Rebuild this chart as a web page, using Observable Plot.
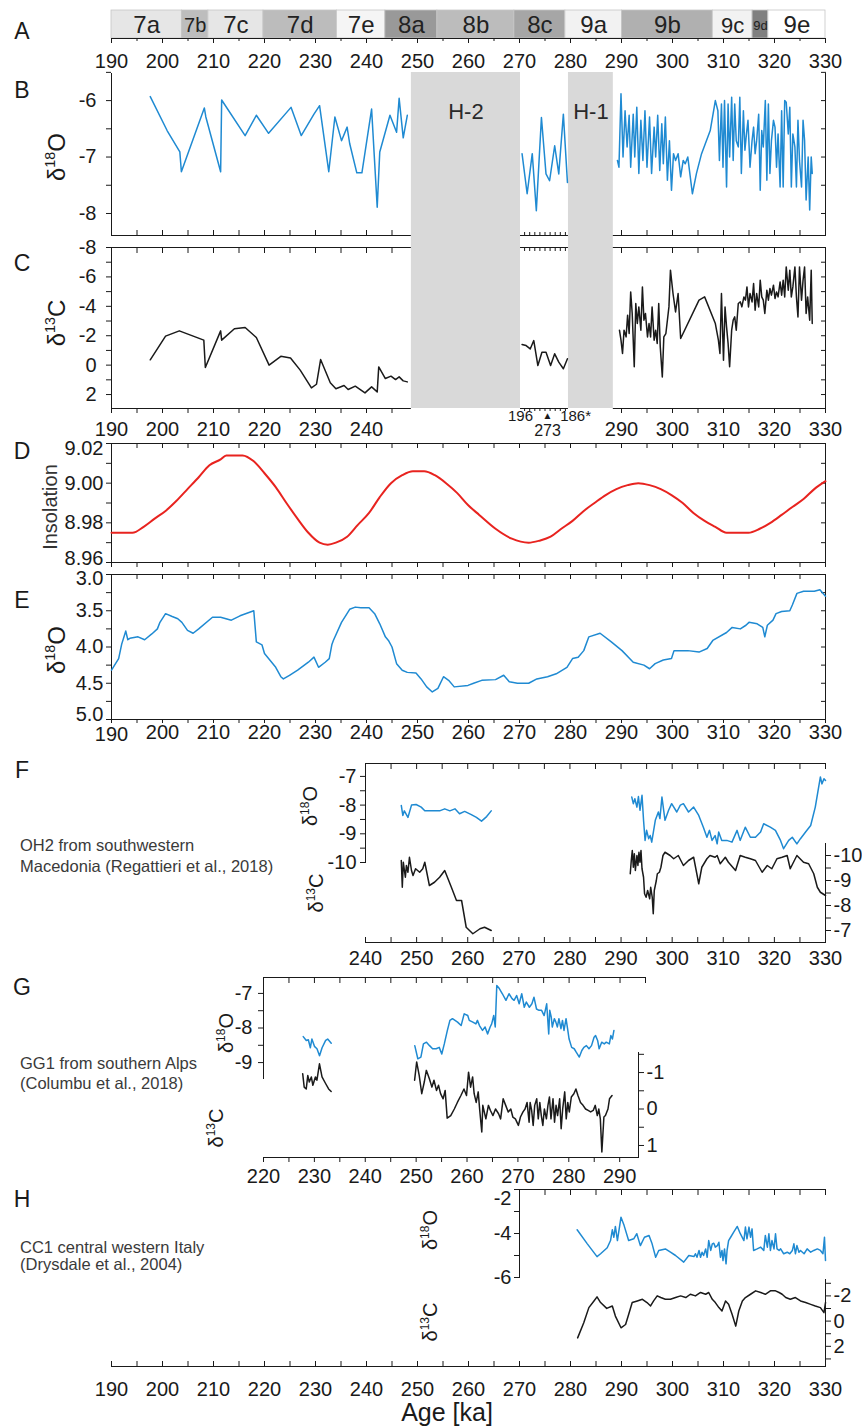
<!DOCTYPE html>
<html><head><meta charset="utf-8">
<script src="https://cdn.jsdelivr.net/npm/d3@7"></script>
<script src="https://cdn.jsdelivr.net/npm/@observablehq/plot@0.6"></script>
<style>
body{margin:0;background:#fff;}
#chart{position:relative;width:862px;height:1426px;overflow:hidden;font-family:"Liberation Sans",Arial,sans-serif;color:#1a1a1a;background:#fff;}
#chart svg{position:absolute;left:0;top:0;}
.n{position:absolute;transform:translate(-50%,-50%);line-height:1;white-space:nowrap;}
.r{position:absolute;transform:translate(-50%,-50%) rotate(-90deg);line-height:1;white-space:nowrap;}
.c{position:absolute;transform:translateY(-50%);line-height:1;white-space:nowrap;color:#3a3a3a;font-size:16.5px;}
sup{font-size:0.6em;vertical-align:0.7em;line-height:0;}
</style></head><body><div id="chart"></div>
<script>
// ---------------- DATA ----------------
const stageNames = ["7a","7b","7c","7d","7e","8a","8b","8c","9a","9b","9c","9d","9e"];
const stageStart = [190, 203.8, 209.0, 219.8, 234.2, 243.7, 253.9, 269.0, 279.0, 290.1, 307.9, 315.7, 318.8];
const stageEnd   = [203.8, 209.0, 219.8, 234.2, 243.7, 253.9, 269.0, 279.0, 290.1, 307.9, 315.7, 318.8, 330];

const heinrichNames = ["H-2", "H-1"];
const heinrichStart = [248.8, 279.6];
const heinrichEnd = [270.2, 288.4];

const brokenAxisStart = [190, 270.2, 288.4];
const brokenAxisEnd = [248.8, 279.6, 330];
const midAxisLabels = ["196", "186*"];
const midAxisLabelAge = [270.2, 281.0];
const midAxisMarkerAge = 275.5;
const midAxisSubLabel = "273";

// Panel B: speleothem d18O
const bO18Left = [[197.6,-5.93],[200.9,-6.53],[203.4,-6.91],[203.7,-7.26],[208.2,-6.13],[208.5,-6.29],[211.4,-7.26],[211.6,-5.99],[216.2,-6.62],[218.4,-6.26],[220.8,-6.58],[225.2,-6.12],[227.2,-6.62],[229.7,-6.24],[230.8,-6.09],[232.6,-7.26],[233.8,-6.29],[235.1,-6.71],[236.2,-6.47],[236.7,-6.76],[238.1,-7.28],[239.1,-7.28],[241.0,-6.15],[242.1,-7.89],[242.6,-6.91],[244.6,-6.26],[245.9,-6.56],[246.4,-5.96],[247.2,-6.66],[248.0,-6.26]];
const bO18Mid = [[270.5,-6.94],[271.5,-7.65],[272.5,-6.94],[273.3,-7.95],[274.3,-6.3],[275.2,-7.3],[275.9,-7.42],[276.9,-6.8],[277.7,-7.3],[278.6,-6.24],[279.4,-7.45]];
const bO18Right = [[289.2,-7.06],[289.5,-7.18],[289.9,-5.88],[290.3,-7.0],[290.7,-6.18],[291.1,-6.82],[291.5,-6.26],[291.8,-7.18],[292.3,-6.24],[292.6,-7.0],[293.0,-6.12],[293.4,-7.29],[293.8,-6.35],[294.2,-7.06],[294.6,-6.18],[295.0,-7.18],[295.5,-6.29],[295.9,-7.29],[296.4,-6.47],[296.7,-7.0],[297.1,-6.26],[297.5,-7.24],[297.9,-6.41],[298.2,-7.12],[298.6,-6.29],[299.0,-7.41],[299.4,-6.71],[299.8,-7.59],[300.2,-6.94],[300.6,-7.06],[301.1,-6.94],[301.6,-7.35],[302.1,-7.06],[302.5,-7.12],[303.0,-7.0],[303.9,-7.65],[304.7,-7.29],[305.7,-6.94],[307.4,-6.53],[308.4,-6.0],[308.9,-6.18],[309.2,-7.06],[309.6,-6.06],[309.9,-7.18],[310.2,-6.0],[310.6,-7.53],[310.9,-6.06],[311.2,-7.0],[311.6,-5.94],[311.9,-7.06],[312.2,-6.06],[312.5,-6.71],[312.9,-6.82],[313.2,-5.94],[313.5,-7.29],[313.9,-6.18],[314.2,-6.88],[314.5,-6.59],[314.8,-6.35],[315.2,-7.18],[315.6,-6.71],[315.9,-6.47],[316.2,-6.94],[316.5,-6.71],[316.9,-6.24],[317.2,-7.59],[317.5,-6.53],[317.8,-6.82],[318.2,-6.0],[318.5,-7.41],[318.8,-6.06],[319.1,-7.29],[319.4,-6.71],[319.8,-6.35],[320.1,-6.47],[320.4,-7.18],[320.7,-6.59],[321.1,-7.53],[321.4,-6.18],[321.7,-7.53],[322.0,-6.0],[322.3,-6.03],[322.7,-6.59],[323.0,-6.12],[323.3,-7.53],[323.6,-6.59],[324.0,-6.82],[324.3,-7.53],[324.6,-6.35],[324.9,-7.06],[325.3,-7.53],[325.6,-6.35],[325.9,-6.71],[326.2,-7.76],[326.6,-7.0],[326.9,-7.94],[327.2,-7.0],[327.4,-7.29]];

// Panel C: speleothem d13C
const cC13Left = [[197.6,-0.36],[200.6,-1.97],[203.3,-2.33],[208.1,-1.7],[208.4,0.16],[211.4,-2.33],[211.6,-1.7],[214.1,-2.47],[216.2,-2.56],[218.4,-1.88],[220.9,0.0],[223.2,-0.6],[225.1,-0.49],[227.0,0.34],[229.2,1.55],[230.2,1.3],[231.0,-0.38],[232.9,1.2],[234.0,1.61],[235.6,1.39],[236.4,1.66],[237.8,1.43],[239.7,1.89],[241.0,1.48],[242.1,1.82],[242.4,0.12],[243.7,0.91],[244.8,0.75],[245.7,0.98],[246.4,0.8],[247.2,1.07],[248.0,1.14]];
const cC13Mid = [[270.5,-1.4],[271.3,-1.33],[272.1,-1.1],[272.8,-1.67],[273.6,0.03],[274.4,-0.88],[275.2,-0.88],[276.1,0.03],[276.9,-0.77],[277.7,-0.2],[278.6,0.25],[279.4,-0.43]];
const cC13Right = [[289.6,-2.38],[289.9,-1.7],[290.2,-0.79],[290.5,-2.38],[290.9,-1.92],[291.2,-3.4],[291.5,-2.15],[291.8,-4.98],[292.1,-3.51],[292.5,0.11],[292.8,-4.19],[293.1,-2.83],[293.4,-3.96],[293.8,-2.38],[294.1,-5.32],[294.4,-3.06],[294.7,-3.51],[295.1,-1.92],[295.4,-2.83],[295.7,-1.92],[296.0,-3.96],[296.4,-1.7],[296.7,-2.38],[297.0,-1.47],[297.3,-4.19],[297.6,-1.24],[298.0,0.8],[298.3,-1.92],[298.7,-2.15],[299.3,-3.96],[299.6,-6.46],[300.1,-4.87],[300.6,-3.62],[301.1,-4.87],[301.6,-1.81],[305.2,-4.42],[306.3,-4.64],[308.4,-2.83],[309.0,-1.7],[309.3,-0.79],[309.6,-4.87],[310.0,-0.34],[310.3,-3.96],[310.6,-2.6],[310.9,-1.47],[311.2,0.11],[311.6,-2.38],[311.9,-3.06],[312.2,-3.28],[312.5,-2.38],[312.9,-4.19],[313.3,-4.3],[313.6,-3.96],[314.0,-4.64],[314.3,-4.42],[314.6,-5.32],[314.9,-3.96],[315.2,-4.87],[315.6,-4.3],[315.9,-5.55],[316.2,-3.74],[316.5,-4.87],[316.9,-3.96],[317.2,-5.78],[317.5,-4.64],[317.8,-4.42],[318.1,-3.51],[318.5,-5.1],[318.8,-4.42],[319.1,-5.21],[319.4,-4.76],[319.8,-5.44],[320.1,-4.53],[320.4,-4.98],[320.7,-4.64],[321.1,-5.66],[321.4,-4.76],[321.7,-5.78],[322.0,-4.64],[322.3,-6.68],[322.7,-5.1],[323.0,-6.46],[323.3,-4.64],[323.6,-5.32],[324.0,-6.68],[324.3,-4.64],[324.6,-3.28],[324.9,-6.68],[325.3,-4.42],[325.6,-5.78],[325.9,-6.68],[326.2,-3.51],[326.5,-4.64],[326.9,-3.06],[327.2,-6.46],[327.4,-2.83]];

// Panel D: insolation
const dInsolation = [[190,8.975],[194.1,8.975],[196.3,8.978],[198.4,8.982],[200.6,8.986],[202.7,8.991],[204.9,8.997],[207.1,9.003],[209.2,9.009],[211.4,9.012],[212.5,9.014],[215.7,9.014],[217.9,9.011],[220.0,9.005],[222.2,8.998],[224.3,8.990],[226.5,8.982],[228.6,8.975],[230.8,8.970],[232.4,8.969],[234.0,8.970],[236.2,8.973],[238.3,8.979],[240.5,8.985],[242.6,8.993],[244.8,9.000],[247.0,9.004],[249.1,9.006],[251.3,9.006],[253.4,9.004],[255.6,9.000],[257.8,8.995],[259.9,8.989],[262.1,8.984],[265.3,8.977],[268.5,8.972],[271.8,8.970],[273.9,8.971],[276.1,8.973],[278.2,8.977],[280.4,8.981],[282.6,8.986],[284.7,8.990],[286.9,8.994],[289.0,8.997],[291.2,8.999],[293.3,9.000],[295.5,8.999],[297.7,8.997],[299.8,8.994],[302.0,8.990],[304.1,8.985],[306.3,8.981],[308.4,8.978],[310.6,8.975],[312.7,8.975],[314.9,8.975],[317.1,8.977],[319.2,8.980],[321.4,8.984],[323.5,8.988],[325.7,8.992],[327.8,8.997],[330.0,9.001]];

// Panel E: benthic d18O stack
const eO18 = [[190.0,4.32],[191.4,4.16],[192.0,3.96],[192.8,3.78],[193.2,3.9],[193.6,3.88],[195.2,3.86],[196.5,3.9],[197.9,3.82],[199.0,3.75],[199.5,3.66],[200.6,3.54],[201.9,3.58],[203.0,3.61],[203.8,3.66],[204.9,3.77],[206.0,3.81],[207.1,3.75],[209.8,3.59],[211.4,3.59],[213.5,3.63],[215.2,3.57],[217.9,3.50],[218.4,3.93],[219.5,3.97],[220.0,4.09],[222.2,4.28],[223.2,4.41],[223.7,4.44],[224.9,4.39],[226.5,4.32],[228.6,4.21],[229.7,4.14],[230.6,4.28],[231.9,4.21],[232.7,4.16],[233.2,3.97],[233.5,3.91],[235.1,3.66],[236.7,3.48],[237.8,3.45],[238.9,3.46],[240.5,3.46],[241.6,3.54],[242.6,3.68],[243.7,3.86],[244.3,3.91],[245.0,4.0],[245.9,4.23],[247.0,4.32],[248.0,4.35],[249.7,4.36],[250.7,4.44],[251.8,4.55],[252.9,4.62],[254.0,4.57],[255.1,4.41],[256.1,4.46],[257.2,4.55],[259.9,4.53],[261.0,4.5],[262.6,4.46],[265.3,4.45],[266.9,4.39],[268.0,4.48],[269.6,4.5],[271.8,4.5],[273.4,4.44],[275.5,4.41],[277.2,4.37],[279.3,4.28],[280.4,4.16],[281.5,4.14],[282.6,4.05],[283.6,3.86],[285.8,3.81],[288.0,3.93],[290.1,4.05],[292.3,4.21],[294.4,4.25],[295.5,4.3],[296.6,4.23],[298.2,4.18],[299.8,4.16],[300.3,4.05],[303.0,4.05],[305.2,4.07],[306.8,4.02],[307.9,3.91],[310.6,3.80],[311.7,3.73],[313.3,3.75],[314.4,3.70],[315.0,3.66],[316.6,3.68],[317.7,3.73],[318.1,3.86],[318.6,3.70],[319.7,3.63],[320.3,3.54],[321.4,3.51],[323.0,3.50],[323.5,3.42],[324.4,3.26],[325.7,3.23],[327.8,3.23],[328.9,3.21],[330.0,3.30]];

// Panel F: OH2
const fO18a = [[247.0,-8.01],[247.3,-8.36],[247.6,-8.2],[248.3,-8.43],[249.0,-8.0],[249.9,-7.98],[250.9,-8.07],[251.6,-8.2],[254.5,-8.2],[255.5,-8.13],[256.5,-8.2],[257.5,-8.13],[258.4,-8.3],[259.4,-8.22],[260.7,-8.33],[261.7,-8.43],[262.7,-8.56],[263.7,-8.4],[264.6,-8.2]];
const fO18b = [[292.1,-7.72],[292.4,-7.95],[292.7,-7.78],[293.1,-8.07],[293.4,-7.70],[293.7,-8.18],[294.1,-7.66],[294.4,-8.53],[294.7,-9.23],[295.0,-8.88],[295.4,-9.17],[295.7,-9.06],[296.0,-9.29],[296.7,-8.53],[297.3,-8.24],[297.6,-8.47],[298.0,-7.72],[298.6,-8.53],[299.3,-8.18],[299.9,-7.95],[300.9,-8.24],[301.6,-8.0],[302.2,-7.95],[303.2,-8.24],[304.2,-8.07],[305.2,-8.36],[306.1,-8.77],[306.8,-9.12],[307.3,-8.88],[307.8,-9.23],[308.4,-9.06],[308.8,-9.35],[309.1,-8.94],[309.7,-9.23],[310.7,-9.23],[311.7,-9.29],[312.7,-8.88],[313.3,-9.23],[314.3,-8.77],[315.3,-9.12],[316.3,-9.12],[317.3,-8.94],[317.9,-8.65],[319.2,-8.77],[320.2,-8.88],[321.2,-9.23],[321.8,-9.52],[322.8,-9.23],[323.5,-9.12],[324.4,-9.35],[325.1,-9.17],[326.1,-8.94],[327.1,-8.71],[328.0,-8.07],[329.0,-7.02],[329.3,-7.26],[329.7,-7.08],[330.0,-7.14]];
const fC13a = [[247.0,-9.8],[247.2,-8.73],[247.4,-9.73],[247.8,-9.13],[248.0,-9.6],[248.3,-9.33],[248.6,-9.93],[249.0,-9.4],[249.3,-9.2],[249.8,-9.47],[250.6,-9.33],[251.2,-9.47],[251.6,-9.73],[252.5,-8.8],[253.5,-8.93],[254.5,-9.13],[255.5,-9.4],[256.8,-8.73],[257.8,-8.2],[258.8,-8.2],[259.7,-7.13],[261.0,-6.87],[262.4,-7.07],[263.3,-7.13],[264.6,-7.0]];
const fC13b = [[291.8,-9.27],[292.0,-9.8],[292.2,-10.2],[292.4,-9.53],[292.6,-10.07],[292.8,-9.4],[293.1,-10.0],[293.3,-9.6],[293.5,-10.13],[293.7,-9.73],[293.9,-10.2],[294.1,-9.47],[294.4,-9.13],[294.6,-8.47],[294.9,-8.33],[295.2,-8.6],[295.6,-8.27],[295.8,-8.73],[296.1,-8.33],[296.3,-7.67],[296.5,-8.6],[296.9,-9.0],[297.1,-9.27],[297.5,-9.33],[297.8,-9.53],[298.2,-10.0],[298.6,-10.13],[299.6,-10.0],[300.3,-9.87],[301.2,-10.0],[302.2,-9.6],[303.2,-9.8],[304.2,-9.93],[305.2,-8.87],[305.8,-9.53],[306.8,-9.87],[307.4,-10.0],[308.4,-9.93],[308.8,-10.0],[309.4,-9.67],[310.4,-9.93],[311.0,-9.73],[312.4,-9.4],[313.3,-10.0],[314.3,-9.93],[315.3,-9.87],[316.3,-9.8],[317.6,-9.33],[318.6,-9.6],[319.5,-9.47],[320.5,-9.87],[321.5,-9.93],[322.5,-10.0],[323.1,-9.47],[324.4,-10.0],[325.7,-9.73],[326.7,-9.67],[327.7,-9.27],[328.4,-8.73],[329.0,-8.53],[330.0,-8.4]];

// Panel G: GG1
const gO18a = [[227.8,-8.25],[228.4,-8.36],[228.8,-8.34],[229.2,-8.57],[229.5,-8.32],[230.0,-8.53],[230.5,-8.6],[231.0,-8.8],[231.5,-8.57],[232.2,-8.36],[232.6,-8.32],[233.3,-8.44]];
const gO18b = [[249.7,-8.51],[250.3,-8.89],[250.9,-8.84],[251.4,-8.46],[252.0,-8.41],[252.6,-8.51],[253.2,-8.6],[253.9,-8.6],[254.5,-8.56],[255.0,-8.75],[255.5,-8.46],[256.1,-8.07],[256.6,-7.78],[257.1,-7.73],[258.1,-7.83],[258.8,-7.93],[259.4,-7.59],[260.1,-7.64],[260.4,-7.78],[261.1,-7.83],[261.7,-7.88],[262.0,-7.78],[262.4,-7.93],[263.0,-8.07],[263.5,-7.97],[264.0,-8.17],[264.5,-7.97],[264.8,-7.88],[265.2,-7.64],[265.5,-7.97],[265.8,-6.77],[266.3,-6.86],[266.9,-7.01],[267.6,-7.2],[268.2,-7.01],[268.8,-7.15],[269.2,-7.2],[269.7,-7.06],[270.2,-7.3],[270.7,-7.01],[271.2,-7.4],[271.6,-7.25],[272.2,-7.4],[272.7,-7.3],[273.1,-7.11],[273.6,-7.45],[274.1,-7.49],[274.6,-7.49],[275.1,-7.64],[275.6,-7.3],[276.0,-8.17],[276.2,-7.49],[276.5,-7.69],[276.7,-7.97],[277.1,-7.73],[277.4,-7.83],[277.7,-7.97],[278.0,-7.73],[278.4,-8.02],[278.7,-7.78],[279.0,-8.07],[279.4,-7.73],[279.7,-8.02],[280.0,-8.32],[280.5,-8.56],[281.0,-8.6],[281.4,-8.7],[282.0,-8.84],[282.5,-8.65],[282.9,-8.56],[283.4,-8.51],[283.9,-8.6],[284.4,-8.51],[284.9,-8.27],[285.2,-8.22],[285.6,-8.36],[285.9,-8.6],[286.4,-8.41],[286.9,-8.46],[287.3,-8.41],[287.9,-8.46],[288.2,-8.22],[288.5,-8.32],[288.8,-8.07]];
const gC13a = [[227.7,-0.97],[228.0,-0.6],[228.4,-0.55],[228.7,-0.92],[229.0,-0.74],[229.4,-0.88],[229.7,-0.65],[230.2,-0.88],[230.5,-0.79],[231.0,-1.24],[231.5,-0.88],[232.2,-0.7],[232.8,-0.55],[233.3,-0.48]];
const gC13b = [[249.7,-0.79],[250.1,-1.29],[250.6,-0.92],[251.1,-0.42],[251.6,-0.74],[252.0,-1.06],[252.6,-0.83],[253.1,-0.6],[253.5,-0.79],[254.0,-0.51],[254.4,-0.65],[254.8,-0.42],[255.3,-0.28],[255.7,-0.51],[256.1,0.25],[256.8,0.18],[257.5,0.0],[258.1,-0.18],[258.8,-0.37],[259.4,-0.55],[259.9,-0.37],[260.3,-1.01],[260.7,-0.6],[261.1,-0.88],[261.4,-0.42],[261.8,-0.18],[262.2,-0.47],[262.5,0.04],[262.9,0.63],[263.1,-0.1],[263.7,0.27],[264.2,-0.1],[264.6,0.04],[265.1,0.18],[265.6,0.0],[266.2,0.13],[266.6,0.27],[267.1,-0.28],[267.6,-0.1],[268.1,0.08],[268.6,0.0],[269.0,0.22],[269.5,0.27],[270.1,0.45],[270.5,0.22],[271.0,0.08],[271.4,0.0],[271.8,-0.18],[272.2,0.36],[272.4,-0.18],[272.7,0.04],[273.0,0.45],[273.3,-0.1],[273.7,-0.28],[274.0,0.27],[274.3,-0.18],[274.6,0.18],[274.9,0.45],[275.2,0.0],[275.6,0.27],[275.9,-0.1],[276.2,-0.33],[276.5,0.27],[276.9,-0.28],[277.2,0.36],[277.5,-0.1],[277.8,0.18],[278.2,-0.28],[278.5,0.54],[278.8,0.0],[279.2,-0.47],[279.5,0.27],[279.8,-0.18],[280.1,0.08],[280.5,-0.33],[281.0,-0.42],[281.4,-0.55],[281.8,-0.37],[282.3,-0.18],[282.8,-0.1],[283.3,0.0],[283.8,0.04],[284.3,0.08],[284.8,0.04],[285.2,-0.1],[285.6,0.18],[285.9,0.0],[286.2,0.27],[286.5,1.18],[286.9,0.22],[287.2,0.18],[287.7,0.0],[288.0,-0.28],[288.5,-0.37]];

// Panel H: CC1
const hO18 = [[281.3,-3.83],[283.3,-4.47],[285.2,-5.05],[285.9,-4.92],[287.2,-4.65],[287.85,-4.32],[288.2,-3.83],[288.5,-4.17],[288.8,-3.68],[289.2,-4.32],[289.9,-3.26],[290.5,-3.63],[291.4,-4.32],[292.4,-4.24],[293.0,-4.01],[293.7,-4.55],[294.5,-4.17],[295.4,-4.09],[296.0,-4.47],[296.7,-5.08],[297.3,-4.77],[298.6,-4.7],[299.6,-4.85],[300.6,-5.0],[302.2,-5.3],[303.2,-5.0],[304.2,-5.05],[304.5,-4.92],[304.8,-5.08],[305.2,-4.77],[305.5,-5.08],[305.8,-4.85],[306.1,-5.0],[306.5,-4.7],[306.8,-5.08],[307.1,-4.32],[307.5,-4.77],[307.8,-4.47],[308.1,-4.44],[308.4,-4.62],[308.8,-4.55],[309.1,-4.4],[309.4,-5.08],[309.7,-4.77],[309.9,-5.23],[310.2,-4.7],[310.5,-5.38],[310.7,-4.77],[311.0,-4.32],[311.4,-4.17],[312.0,-3.94],[312.7,-3.68],[313.3,-4.01],[314.0,-4.32],[314.3,-3.71],[314.6,-4.24],[315.0,-3.71],[315.3,-4.17],[315.6,-3.79],[315.9,-4.77],[316.6,-4.7],[317.3,-4.62],[317.9,-4.77],[318.2,-4.09],[318.6,-4.62],[318.9,-4.01],[319.2,-4.77],[319.5,-4.32],[319.9,-4.7],[320.2,-4.01],[320.5,-4.7],[320.9,-4.77],[321.2,-4.7],[321.8,-4.92],[322.5,-4.85],[323.0,-4.92],[323.5,-4.77],[323.8,-4.47],[324.1,-4.92],[324.4,-4.55],[324.8,-4.85],[325.1,-4.77],[325.8,-4.92],[326.4,-4.7],[327.1,-4.85],[327.7,-4.77],[328.4,-4.7],[329.0,-4.77],[329.5,-4.92],[329.8,-4.17],[330.0,-5.23]];
const hC13 = [[281.4,1.33],[282.6,0.13],[283.6,-1.07],[284.6,-1.6],[285.2,-1.92],[285.9,-1.47],[287.1,-1.01],[288.2,-1.2],[288.8,-0.4],[289.9,0.53],[290.8,0.27],[291.4,-0.53],[292.1,-1.47],[293.1,-1.6],[294.1,-1.73],[295.0,-1.47],[295.7,-1.2],[296.3,-1.6],[297.0,-2.0],[297.7,-1.87],[298.6,-1.73],[299.6,-1.73],[300.6,-1.87],[301.6,-2.0],[302.6,-1.87],[303.5,-2.13],[304.5,-2.0],[305.5,-2.27],[306.5,-2.13],[307.1,-2.27],[307.8,-1.73],[308.4,-1.47],[309.1,-1.07],[309.7,-0.8],[310.4,-1.6],[311.0,-1.33],[311.7,-0.53],[312.4,0.4],[313.0,-0.8],[313.7,-1.6],[314.3,-1.87],[315.3,-2.13],[316.3,-2.4],[317.3,-2.27],[318.2,-2.13],[319.2,-2.4],[320.2,-2.4],[320.9,-2.27],[321.5,-2.13],[322.2,-1.87],[323.1,-1.73],[324.1,-1.87],[325.1,-1.6],[326.1,-1.47],[327.1,-1.33],[328.0,-1.2],[329.0,-1.07],[329.7,-0.67],[330.0,-1.47]];

// ---------------- STYLE / LAYOUT ----------------
const stageGrays = ["#e6e6e6","#bdbdbd","#e6e6e6","#bcbcbc","#f5f5f5","#999999","#bcbcbc","#a6a6a6","#f2f2f2","#b0b0b0","#f2f2f2","#808080","#ffffff"];
const stageFont = {"7b": 20, "9c": 22, "9d": 13};
const ink = "#1a1a1a", blue = "#1f8ad2", red = "#e8231f", bandGray = "#d9d9d9";
const font = "'Liberation Sans', Arial, Helvetica, sans-serif";
const W = 862, H = 1426;
const chart = document.getElementById("chart");

const fmt = d => String(d);
const blank = () => "";
const rows = (seg, pairs) => pairs.map(([age, v]) => ({seg, age, v}));
const every = (a, b, s) => d3.range(a, b + 1e-9, s);

const stageRows = stageNames.map((stage, i) => ({stage, start: stageStart[i], end: stageEnd[i]}));
const bandRows = heinrichNames.map((name, i) => ({name, start: heinrichStart[i], end: heinrichEnd[i]}));
const segRows = brokenAxisStart.map((s, i) => ({start: s, end: brokenAxisEnd[i]}));
const outerTicks = every(190, 245, 5).concat(every(290, 330, 5));
const innerTicks = every(271, 279, 1);
const outerLabels = every(190, 240, 10).concat(every(290, 330, 10));
const midRows = midAxisLabels.map((t, i) => ({t, age: midAxisLabelAge[i]}));

function panel({top, bottom, left = 111, right = 825, x = [190, 330], y, reverse = false, color, marks}) {
  const opts = {
    width: W, height: H,
    marginTop: top, marginBottom: H - bottom, marginLeft: left, marginRight: W - right,
    x: {domain: x, label: null, axis: null},
    style: {background: "transparent", fontFamily: font, fontSize: "20px", color: ink, overflow: "visible"},
    marks
  };
  if (y) opts.y = {domain: y, reverse, label: null, axis: null};
  if (color) opts.color = color;
  chart.appendChild(Plot.plot(opts));
}

// A: MIS stages strip + top age axis
panel({top: 10, bottom: 38, color: {domain: stageNames, range: stageGrays}, marks: [
  Plot.rect(stageRows, {x1: "start", x2: "end", fill: "stage", stroke: "#c6c6c6", strokeWidth: 0.8}),
  Plot.text(stageRows, {x: d => (d.start + d.end) / 2, text: "stage", fontSize: d => stageFont[d.stage] || 24, fill: "#222", dy: 1}),
  Plot.frame({anchor: "bottom", stroke: ink}),
  Plot.axisX({anchor: "bottom", ticks: every(190, 330, 10), tickSize: 5, tickPadding: 10, tickFormat: fmt}),
  Plot.axisX({anchor: "bottom", ticks: every(195, 325, 10), tickSize: 3, tickFormat: blank})
]});

// Heinrich bands behind B and C
panel({top: 72, bottom: 408, marks: [
  Plot.rect(bandRows, {x1: "start", x2: "end", fill: bandGray}),
  Plot.text(bandRows, {x: d => (d.start + d.end) / 2, text: "name", frameAnchor: "top", dy: 31, fontSize: 22, fill: "#2a2a2a"})
]});

// B
const yB = [-8.39, -5.52];
panel({top: 73, bottom: 235, y: yB, marks: [
  Plot.frame({anchor: "left", stroke: ink}),
  Plot.frame({anchor: "right", stroke: ink}),
  Plot.ruleY(segRows, {y: () => yB[0], x1: "start", x2: "end", stroke: ink}),
  Plot.axisY({anchor: "left", ticks: [-6, -7, -8], tickSize: 5, tickPadding: 10, tickFormat: fmt}),
  Plot.axisY({anchor: "left", ticks: [-5.5, -6.5, -7.5], tickSize: 5, tickFormat: blank}),
  Plot.axisY({anchor: "right", ticks: every(-8, -5.5, 0.5), tickSize: -5, tickFormat: blank}),
  Plot.axisX({anchor: "bottom", ticks: outerTicks, tickSize: -5, tickFormat: blank}),
  Plot.axisX({anchor: "bottom", ticks: innerTicks, tickSize: -3, tickFormat: blank}),
  Plot.line(rows("l", bO18Left).concat(rows("m", bO18Mid), rows("r", bO18Right)), {x: "age", y: "v", z: "seg", stroke: blue, strokeWidth: 1.5})
]});

// C
const yC = [-8, 2.95];
panel({top: 247, bottom: 408, y: yC, reverse: true, marks: [
  Plot.frame({anchor: "left", stroke: ink}),
  Plot.frame({anchor: "right", stroke: ink}),
  Plot.ruleY(segRows, {y: () => yC[0], x1: "start", x2: "end", stroke: ink}),
  Plot.ruleY(segRows, {y: () => yC[1], x1: "start", x2: "end", stroke: ink}),
  Plot.axisY({anchor: "left", ticks: every(-8, 2, 2), tickSize: 5, tickPadding: 10, tickFormat: fmt}),
  Plot.axisY({anchor: "left", ticks: every(-7, 1, 2), tickSize: 5, tickFormat: blank}),
  Plot.axisY({anchor: "right", ticks: every(-8, 2, 1), tickSize: -5, tickFormat: blank}),
  Plot.axisX({anchor: "top", ticks: outerTicks, tickSize: -5, tickFormat: blank}),
  Plot.axisX({anchor: "top", ticks: innerTicks, tickSize: -3, tickFormat: blank}),
  Plot.axisX({anchor: "bottom", ticks: outerTicks, tickSize: 5, tickFormat: blank}),
  Plot.axisX({anchor: "bottom", ticks: innerTicks, tickSize: 3, tickFormat: blank}),
  Plot.axisX({anchor: "bottom", ticks: outerLabels, tickSize: 0, tickPadding: 13, tickFormat: fmt}),
  Plot.text(midRows, {x: "age", text: "t", frameAnchor: "bottom", dy: 12, fontSize: 15}),
  Plot.text(["\u25B2"], {x: midAxisMarkerAge, text: d => d, frameAnchor: "bottom", dy: 10, fontSize: 10}),
  Plot.text([midAxisSubLabel], {x: midAxisMarkerAge, text: d => d, frameAnchor: "bottom", dy: 27, fontSize: 16}),
  Plot.line(rows("l", cC13Left).concat(rows("m", cC13Mid), rows("r", cC13Right)), {x: "age", y: "v", z: "seg", stroke: ink, strokeWidth: 1.5})
]});

// D
panel({top: 443, bottom: 562, y: [8.96, 9.02], marks: [
  Plot.frame({stroke: ink}),
  Plot.axisY({anchor: "left", ticks: every(8.96, 9.02, 0.01), tickSize: 5, tickFormat: blank}),
  Plot.axisY({anchor: "left", ticks: [8.98, 9.00], tickSize: 0, tickPadding: 8, tickFormat: d3.format(".2f")}),
  Plot.axisY({anchor: "left", ticks: [9.02], tickSize: 0, tickPadding: 8, dy: 5, tickFormat: d3.format(".2f")}),
  Plot.axisY({anchor: "left", ticks: [8.96], tickSize: 0, tickPadding: 8, dy: -4, tickFormat: d3.format(".2f")}),
  Plot.axisY({anchor: "right", ticks: every(8.96, 9.02, 0.01), tickSize: -5, tickFormat: blank}),
  Plot.axisX({anchor: "top", ticks: every(190, 330, 5), tickSize: -4, tickFormat: blank}),
  Plot.axisX({anchor: "bottom", ticks: every(190, 330, 5), tickSize: 5, tickFormat: blank}),
  Plot.line(rows("d", dInsolation), {x: "age", y: "v", stroke: red, strokeWidth: 2, curve: "monotone-x"})
]});

// E
panel({top: 574, bottom: 719, y: [3, 5], reverse: true, marks: [
  Plot.frame({stroke: ink}),
  Plot.axisY({anchor: "left", ticks: every(3, 5, 0.25), tickSize: 5, tickFormat: blank}),
  Plot.axisY({anchor: "left", ticks: every(3.5, 4.5, 0.5), tickSize: 0, tickPadding: 8, tickFormat: d3.format(".1f")}),
  Plot.axisY({anchor: "left", ticks: [3], tickSize: 0, tickPadding: 8, dy: 4, tickFormat: d3.format(".1f")}),
  Plot.axisY({anchor: "left", ticks: [5], tickSize: 0, tickPadding: 8, dy: -5, tickFormat: d3.format(".1f")}),
  Plot.axisY({anchor: "right", ticks: every(3, 5, 0.25), tickSize: -5, tickFormat: blank}),
  Plot.axisX({anchor: "top", ticks: every(190, 330, 5), tickSize: -4, tickFormat: blank}),
  Plot.axisX({anchor: "bottom", ticks: every(190, 330, 5), tickSize: 4, tickFormat: blank}),
  Plot.axisX({anchor: "bottom", ticks: every(200, 330, 10), tickSize: 0, tickPadding: 5, tickFormat: fmt}),
  Plot.axisX({anchor: "bottom", ticks: [190], tickSize: 0, tickPadding: 7, tickFormat: fmt}),
  Plot.line(rows("e", eO18), {x: "age", y: "v", stroke: blue, strokeWidth: 1.5})
]});

// F (two stacked y scales)
panel({top: 763, bottom: 862, left: 365, x: [240, 330], y: [-10, -6.55], marks: [
  Plot.frame({anchor: "top", stroke: ink}),
  Plot.frame({anchor: "left", stroke: ink}),
  Plot.axisX({anchor: "top", ticks: every(240, 330, 5), tickSize: -5, tickFormat: blank}),
  Plot.axisY({anchor: "left", ticks: [-7, -8, -9, -10], tickSize: 5, tickPadding: 4, tickFormat: fmt}),
  Plot.axisY({anchor: "left", ticks: [-7.5, -8.5, -9.5], tickSize: 5, tickFormat: blank}),
  Plot.line(rows("a", fO18a).concat(rows("b", fO18b)), {x: "age", y: "v", z: "seg", stroke: blue, strokeWidth: 1.5})
]});
panel({top: 843, bottom: 942, left: 365, x: [240, 330], y: [-10.48, -6.52], reverse: true, marks: [
  Plot.frame({anchor: "right", stroke: ink}),
  Plot.frame({anchor: "bottom", stroke: ink}),
  Plot.axisY({anchor: "right", ticks: [-10, -9, -8, -7], tickSize: 5, tickPadding: 3, tickFormat: fmt}),
  Plot.axisY({anchor: "right", ticks: [-9.5, -8.5, -7.5], tickSize: 5, tickFormat: blank}),
  Plot.axisX({anchor: "bottom", ticks: every(240, 330, 5), tickSize: -5, tickFormat: blank}),
  Plot.axisX({anchor: "bottom", ticks: every(240, 330, 10), tickSize: 0, tickPadding: 8, tickFormat: fmt}),
  Plot.line(rows("a", fC13a).concat(rows("b", fC13b)), {x: "age", y: "v", z: "seg", stroke: ink, strokeWidth: 1.5})
]});

// G
panel({top: 977, bottom: 1078, left: 263, right: 645, x: [220, 295], y: [-9.46, -6.54], marks: [
  Plot.frame({anchor: "top", stroke: ink}),
  Plot.frame({anchor: "left", stroke: ink}),
  Plot.axisX({anchor: "top", ticks: every(220, 295, 5), tickSize: -5, tickFormat: blank}),
  Plot.axisY({anchor: "left", ticks: [-7, -8, -9], tickSize: 5, tickPadding: 6, tickFormat: fmt}),
  Plot.axisY({anchor: "left", ticks: [-7.5, -8.5], tickSize: 5, tickFormat: blank}),
  Plot.line(rows("a", gO18a).concat(rows("b", gO18b)), {x: "age", y: "v", z: "seg", stroke: blue, strokeWidth: 1.5})
]});
panel({top: 1052, bottom: 1157, left: 263, right: 638, x: [220, 293.7], y: [-1.55, 1.33], reverse: true, marks: [
  Plot.frame({anchor: "right", stroke: ink}),
  Plot.frame({anchor: "bottom", stroke: ink}),
  Plot.axisY({anchor: "right", ticks: [-1, 0, 1], tickSize: 5, tickPadding: 3, tickFormat: fmt}),
  Plot.axisY({anchor: "right", ticks: [-1.5, -0.5, 0.5], tickSize: 5, tickFormat: blank}),
  Plot.axisX({anchor: "bottom", ticks: every(220, 290, 5), tickSize: 5, tickFormat: blank}),
  Plot.axisX({anchor: "bottom", ticks: every(220, 290, 10), tickSize: 0, tickPadding: 11, tickFormat: fmt}),
  Plot.line(rows("a", gC13a).concat(rows("b", gC13b)), {x: "age", y: "v", z: "seg", stroke: ink, strokeWidth: 1.5})
]});

// H
panel({top: 1189, bottom: 1277, left: 519, x: [270, 330], y: [-6, -2], marks: [
  Plot.frame({anchor: "top", stroke: ink}),
  Plot.frame({anchor: "left", stroke: ink}),
  Plot.axisX({anchor: "top", ticks: every(270, 330, 5), tickSize: -5, tickFormat: blank}),
  Plot.axisY({anchor: "left", ticks: every(-6, -2, 1), tickSize: 5, tickFormat: blank}),
  Plot.axisY({anchor: "left", ticks: [-4, -6], tickSize: 0, tickPadding: 8, tickFormat: fmt}),
  Plot.axisY({anchor: "left", ticks: [-2], tickSize: 0, tickPadding: 8, dy: 9, tickFormat: fmt}),
  Plot.line(rows("h", hO18), {x: "age", y: "v", stroke: blue, strokeWidth: 1.5})
]});
panel({top: 1279, bottom: 1366, y: [-3.3, 3.6], reverse: true, marks: [
  Plot.frame({anchor: "right", stroke: ink}),
  Plot.frame({anchor: "bottom", stroke: ink}),
  Plot.axisY({anchor: "right", ticks: [-2, 0, 2], tickSize: 5, tickPadding: 3, tickFormat: fmt}),
  Plot.axisY({anchor: "right", ticks: [-3, -1, 1, 3], tickSize: 5, tickFormat: blank}),
  Plot.axisX({anchor: "bottom", ticks: every(190, 330, 5), tickSize: -5, tickFormat: blank}),
  Plot.axisX({anchor: "bottom", ticks: every(190, 330, 10), tickSize: 0, tickPadding: 15, tickFormat: fmt}),
  Plot.line(rows("h", hC13), {x: "age", y: "v", stroke: ink, strokeWidth: 1.5})
]});

// ---------------- TEXT ANNOTATIONS ----------------
const O18 = "δ<sup>18</sup>O", C13 = "δ<sup>13</sup>C";
const letters = [["A", 31], ["B", 90], ["C", 263], ["D", 451], ["E", 600], ["F", 770], ["G", 987], ["H", 1199]];
letters.forEach(([t, y]) => add("n", t, 22, y, 23));
const titles = [
  [O18, 57, 157, 24], [C13, 57, 323, 24], ["Insolation", 50, 507, 20], [O18, 57, 650, 24],
  [O18, 310, 806, 20], [C13, 316, 893, 20],
  [O18, 226, 1033, 20], [C13, 216, 1128, 20],
  [O18, 430, 1230, 20], [C13, 430, 1322, 20]
];
titles.forEach(([t, x, y, s]) => add("r", t, x, y, s, t === "Insolation" ? "#333" : null));
const captions = [
  ["OH2 from southwestern", 845], ["Macedonia (Regattieri et al., 2018)", 866],
  ["GG1 from southern Alps", 1063], ["(Columbu et al., 2018)", 1083],
  ["CC1 central western Italy", 1247], ["(Drysdale et al., 2004)", 1264]
];
captions.forEach(([t, y]) => add("c", t, 20, y));
add("n", "Age [ka]", 447, 1412, 25);

function add(cls, html, x, y, size, color) {
  const el = document.createElement("div");
  el.className = cls;
  el.innerHTML = html;
  el.style.left = x + "px";
  el.style.top = y + "px";
  if (size) el.style.fontSize = size + "px";
  if (color) el.style.color = color;
  chart.appendChild(el);
}
</script></body></html>
